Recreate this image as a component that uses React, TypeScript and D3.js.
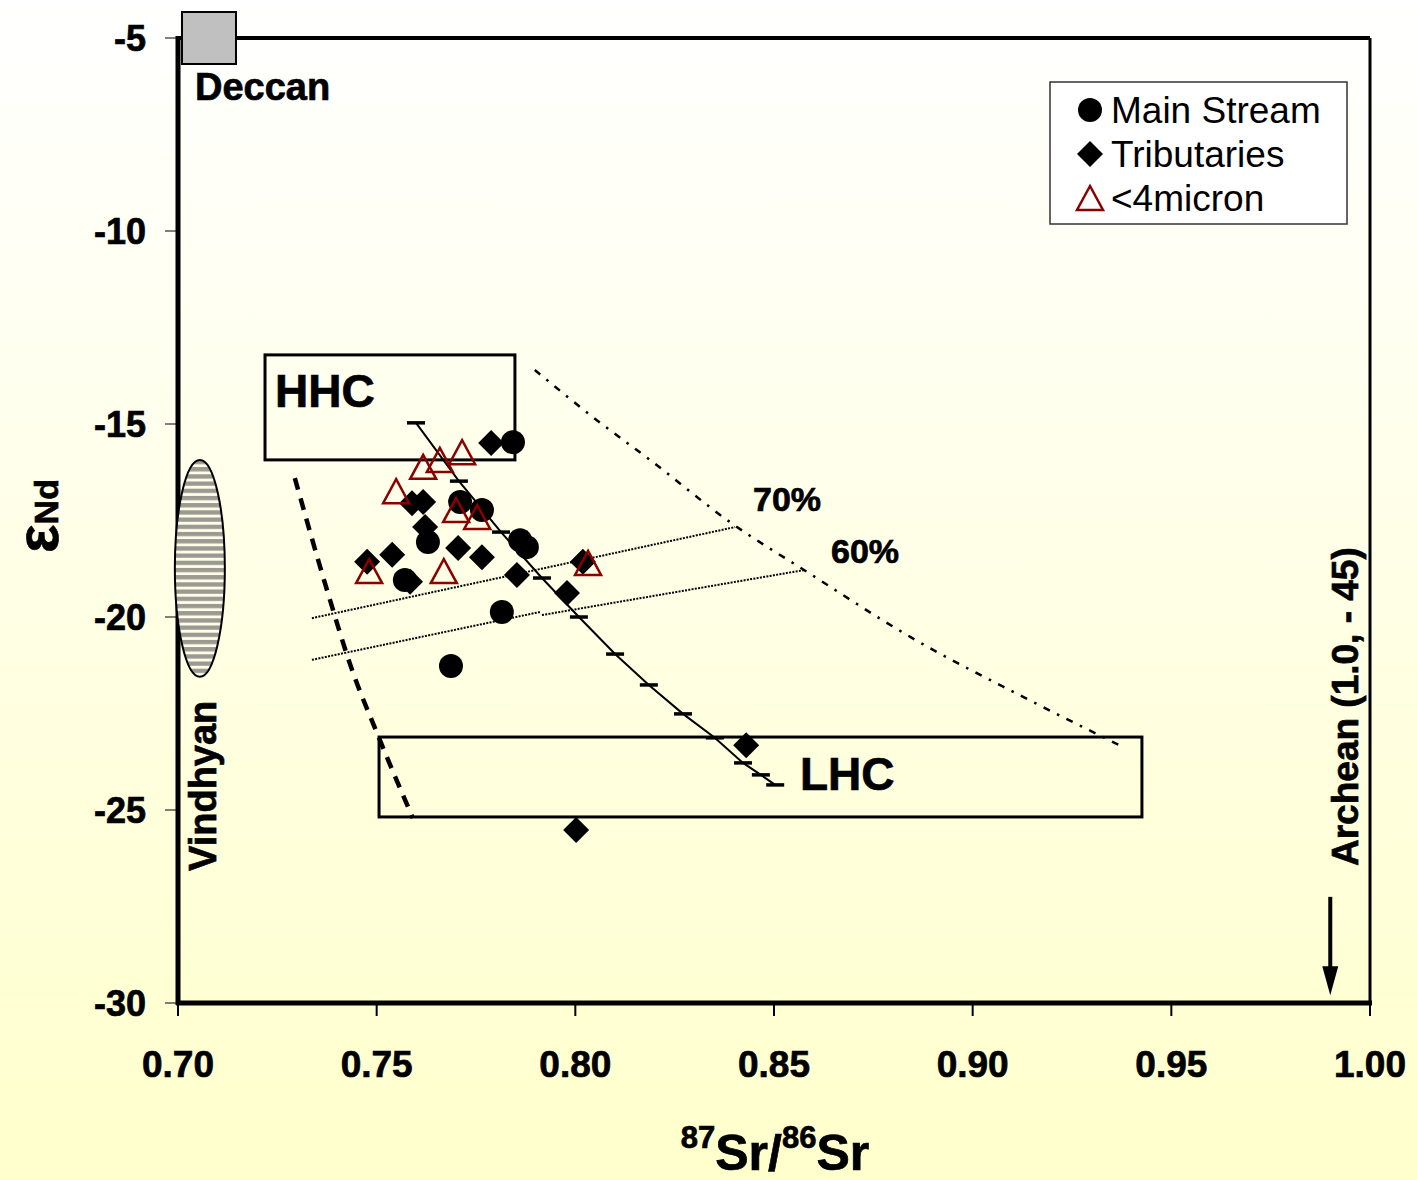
import React from 'react';
import * as d3 from 'd3';

// 87Sr/86Sr vs eps-Nd
const mainStream: [number, number][] = [
  [0.7843, -15.47], [0.771, -17.02], [0.7765, -17.23], [0.7629, -18.06], [0.7861, -18.01],
  [0.7878, -18.19], [0.7571, -19.04], [0.7815, -19.87], [0.7687, -21.27],
];
const tributaries: [number, number][] = [
  [0.7788, -15.49], [0.7589, -17.05], [0.7617, -17.02], [0.7622, -17.67], [0.7705, -18.21],
  [0.7765, -18.45], [0.7539, -18.39], [0.7476, -18.57], [0.7584, -19.09], [0.7853, -18.91],
  [0.7979, -19.38], [0.8019, -18.57], [0.843, -23.32], [0.8002, -25.52],
];
const fine: [number, number][] = [
  [0.7715, -15.73], [0.7659, -15.93], [0.7617, -16.11], [0.7549, -16.74], [0.77, -17.23],
  [0.7753, -17.41], [0.7481, -18.81], [0.7669, -18.81], [0.8032, -18.6],
];

// HHC-LHC mixing curve with tick marks
const mixCurve: [number, number][] = [
  [0.7599, -14.97], [0.7707, -16.48], [0.7813, -17.8], [0.7916, -18.99], [0.8009, -20.0],
  [0.81, -20.96], [0.8185, -21.76], [0.8271, -22.51], [0.8351, -23.13], [0.8422, -23.78],
  [0.8467, -24.09], [0.8503, -24.35],
];
const leftCurve: [number, number][] = [
  [0.7294, -16.4], [0.7375, -19.3], [0.7438, -21.37], [0.7501, -23.01], [0.7591, -25.21],
];
const rightCurve: [number, number][] = [
  [0.7898, -13.6], [0.8054, -14.9], [0.8188, -15.93], [0.8389, -17.54], [0.8583, -18.83],
  [0.8847, -20.54], [0.9127, -22.07], [0.9383, -23.39],
];
const line70: [number, number][] = [[0.7337, -20.03], [0.8402, -17.67]];
const line60a: [number, number][] = [[0.7337, -21.11], [0.7911, -19.87]];
const line60b: [number, number][] = [[0.7916, -19.95], [0.8578, -18.78]];

const hhcBox = { x0: 0.7219, x1: 0.7848, y0: -13.21, y1: -15.93 };
const lhcBox = { x0: 0.7506, x1: 0.9426, y0: -23.11, y1: -25.18 };
const deccan: [number, number] = [0.7078, -5.0];
const vindhyan = { x: 0.7055, y: -18.74, ry: 2.81 };

const xTicks = [0.7, 0.75, 0.8, 0.85, 0.9, 0.95, 1.0];
const yTicks = [-5, -10, -15, -20, -25, -30];

const W = 1417;
const H = 1180;
const FONT = '"Liberation Sans", Arial, sans-serif';

const x = d3.scaleLinear().domain([0.7, 1.0]).range([178, 1370]);
const y = d3.scaleLinear().domain([-30, -5]).range([1003, 38]);

const line = d3.line<[number, number]>().x(d => x(d[0])).y(d => y(d[1]));
const smooth = d3.line<[number, number]>().x(d => x(d[0])).y(d => y(d[1])).curve(d3.curveMonotoneX);

const diamond = (cx: number, cy: number, r: number) =>
  `M${cx},${cy - r}L${cx + r},${cy}L${cx},${cy + r}L${cx - r},${cy}Z`;
const triangle = (cx: number, cy: number, w: number, h: number) =>
  `M${cx},${cy - h / 2}L${cx + w / 2},${cy + h / 2}L${cx - w / 2},${cy + h / 2}Z`;

// heavier bold like the original rendering
const heavy = { fontWeight: 'bold' as const, stroke: '#000', strokeWidth: 0.7 };

const App: React.FC = () => {
  const vx = x(vindhyan.x);
  const vy = y(vindhyan.y);
  const vry = y(vindhyan.y - vindhyan.ry) - vy;
  const ax = x(0.99);

  return (
    <svg width={W} height={H} style={{ position: 'absolute', left: 0, top: 0 }} fontFamily={FONT}>
      <defs>
        <linearGradient id="bg" x1="0" y1="0" x2="0" y2="1">
          <stop offset="0" stopColor="#ffffff" />
          <stop offset="1" stopColor="#ffffcc" />
        </linearGradient>
        <pattern id="stripes" patternUnits="userSpaceOnUse" width={20} height={7.2} y={vy - vry}>
          <rect width={20} height={7.2} fill="#fdfde8" />
          <rect width={20} height={4.3} fill="#9a9a92" />
        </pattern>
      </defs>
      <rect width={W} height={H} fill="url(#bg)" />

      {/* frame */}
      <line x1={178} x2={1370} y1={38} y2={38} stroke="#000" strokeWidth={4} />
      <line x1={1370} x2={1370} y1={38} y2={1003} stroke="#000" strokeWidth={3} />
      <line x1={178} x2={178} y1={36} y2={1005} stroke="#000" strokeWidth={5} />
      <line x1={176} x2={1372} y1={1003} y2={1003} stroke="#000" strokeWidth={5} />

      {yTicks.map(t => (
        <g key={t}>
          <line x1={165} x2={178} y1={y(t)} y2={y(t)} stroke="#000" strokeWidth={1} />
          <text x={146} y={y(t)} dy="0.36em" textAnchor="end" fontSize={36} {...heavy}>{t}</text>
        </g>
      ))}
      {xTicks.map(t => (
        <g key={t}>
          <line x1={x(t)} x2={x(t)} y1={1003} y2={1016} stroke="#000" strokeWidth={2} />
          <text x={x(t)} y={1077} textAnchor="middle" fontSize={37} {...heavy}>{t.toFixed(2)}</text>
        </g>
      ))}

      {/* axis titles */}
      <text transform="translate(58,516) rotate(-90)" textAnchor="middle" {...heavy}>
        <tspan fontSize={60}>ε</tspan>
        <tspan fontSize={34}>Nd</tspan>
      </text>
      <text x={775} y={1170} textAnchor="middle" {...heavy}>
        <tspan fontSize={31} dy={-22}>87</tspan>
        <tspan fontSize={50} dy={22}>Sr/</tspan>
        <tspan fontSize={31} dy={-22}>86</tspan>
        <tspan fontSize={50} dy={22}>Sr</tspan>
      </text>

      {/* end-member fields */}
      <rect x={x(hhcBox.x0)} y={y(hhcBox.y0)} width={x(hhcBox.x1) - x(hhcBox.x0)} height={y(hhcBox.y1) - y(hhcBox.y0)}
        fill="none" stroke="#000" strokeWidth={3} />
      <rect x={x(lhcBox.x0)} y={y(lhcBox.y0)} width={x(lhcBox.x1) - x(lhcBox.x0)} height={y(lhcBox.y1) - y(lhcBox.y0)}
        fill="none" stroke="#000" strokeWidth={3} />
      <text x={275} y={407} fontSize={46} {...heavy}>HHC</text>
      <text x={800} y={790} fontSize={46} {...heavy}>LHC</text>

      <rect x={x(deccan[0]) - 27} y={y(deccan[1]) - 26} width={54} height={52} fill="#c0c0c0" stroke="#000" strokeWidth={2} />
      <text x={195} y={100} fontSize={38} {...heavy}>Deccan</text>

      <ellipse cx={vx} cy={vy} rx={25} ry={vry} fill="url(#stripes)" stroke="#000" strokeWidth={2} />
      <text transform="translate(216,871) rotate(-90)" fontSize={38} {...heavy}>Vindhyan</text>

      <text transform="translate(1358,866) rotate(-90)" fontSize={37} {...heavy}>Archean (1.0, - 45)</text>
      <line x1={ax} x2={ax} y1={y(-27.25)} y2={y(-29.1)} stroke="#000" strokeWidth={4} />
      <path d={`M${ax - 8},${y(-29.05)}L${ax + 8},${y(-29.05)}L${ax},${y(-29.8)}Z`} fill="#000" />

      {/* mixing lines */}
      <path d={smooth(leftCurve) || ''} fill="none" stroke="#000" strokeWidth={4.5} strokeDasharray="12 9" />
      <path d={smooth(rightCurve) || ''} fill="none" stroke="#000" strokeWidth={2.5} strokeDasharray="7 8 2.5 8" />
      {[line70, line60a, line60b].map((l, i) => (
        <path key={i} d={line(l) || ''} fill="none" stroke="#000" strokeWidth={2} strokeDasharray="2 1.3" />
      ))}
      <text x={753} y={511} fontSize={34} {...heavy}>70%</text>
      <text x={831} y={563} fontSize={34} {...heavy}>60%</text>

      <path d={line(mixCurve) || ''} fill="none" stroke="#000" strokeWidth={2} />
      {mixCurve.map((d, i) => (
        <line key={i} x1={x(d[0]) - 9} x2={x(d[0]) + 9} y1={y(d[1])} y2={y(d[1])} stroke="#000" strokeWidth={3.5} />
      ))}

      {/* samples */}
      {tributaries.map((d, i) => (
        <path key={i} d={diamond(x(d[0]), y(d[1]), 13)} fill="#000" />
      ))}
      {mainStream.map((d, i) => (
        <circle key={i} cx={x(d[0])} cy={y(d[1])} r={12} fill="#000" />
      ))}
      {fine.map((d, i) => (
        <path key={i} d={triangle(x(d[0]), y(d[1]), 26, 24)} fill="none" stroke="#8b0000" strokeWidth={2.5} />
      ))}

      {/* legend */}
      <rect x={1050} y={82} width={297} height={142} fill="#fff" stroke="#333" strokeWidth={1.5} />
      <circle cx={1090} cy={110} r={12} fill="#000" />
      <text x={1111} y={123} fontSize={37}>Main Stream</text>
      <path d={diamond(1090, 154, 13)} fill="#000" />
      <text x={1111} y={167} fontSize={37}>Tributaries</text>
      <path d={triangle(1090, 198, 26, 24)} fill="none" stroke="#8b0000" strokeWidth={2.5} />
      <text x={1111} y={211} fontSize={37}>&lt;4micron</text>
    </svg>
  );
};

export default App;
